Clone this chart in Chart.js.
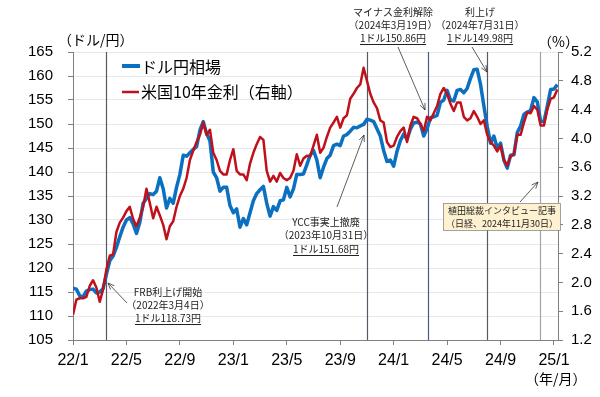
<!DOCTYPE html>
<html>
<head>
<meta charset="utf-8">
<script src="https://cdn.jsdelivr.net/npm/chart.js@4"></script>
<style>
html, body { margin: 0; padding: 0; background: #fff; }
#wrap { width: 600px; height: 397px; }
</style>
</head>
<body>
<div id="wrap"><canvas id="fxChart" width="600" height="397"></canvas></div>
<script>
// weekly-ish time grid: months since 2022/1, one point per quarter month (through early Jan 2025)
const months = Array.from({ length: 146 }, (_, i) => i * 0.25);

// ドル円相場 (yen per dollar)
const usdjpy = [
  115.8, 115.6, 114.2, 114.0, 115.2, 115.5, 115.6, 114.8, 115.0, 115.7, 118.7, 121.5,   // 2022/1-3
  122.5, 124.3, 126.5, 128.5, 130.0, 130.5, 129.2, 127.2, 129.5, 133.5, 134.5, 135.5,   // 2022/4-6
  135.3, 136.0, 138.8, 136.5, 132.5, 134.5, 133.5, 136.8, 139.5, 143.5, 143.3, 144.0,   // 2022/7-9
  144.7, 145.3, 148.7, 150.5, 148.0, 146.5, 140.0, 138.8, 136.0, 136.8, 136.8, 133.0,   // 2022/10-12
  131.5, 132.3, 128.5, 130.3, 129.0, 131.5, 134.0, 135.5, 136.3, 137.0, 133.5, 130.8,   // 2023/1-3
  132.8, 132.0, 134.0, 134.2, 136.8, 134.8, 136.5, 139.5, 139.5, 139.6, 141.5, 143.5,   // 2023/4-6
  144.5, 142.5, 138.8, 141.0, 142.8, 143.5, 145.5, 145.8, 145.5, 147.5, 147.8, 148.5,   // 2023/7-9
  149.3, 149.2, 149.6, 149.9, 151.0, 150.8, 150.5, 149.0, 147.5, 144.5, 142.2, 142.5,   // 2023/10-12
  141.2, 144.3, 146.5, 147.9, 146.8, 148.9, 150.2, 150.4, 150.0, 147.5, 149.0, 151.3,   // 2024/1-3
  151.5, 151.8, 154.5, 155.0, 157.0, 155.0, 154.8, 157.0, 157.2, 156.5, 157.4, 159.5,   // 2024/4-6
  161.3, 161.4, 158.3, 153.8, 149.5, 146.0, 147.5, 145.0, 146.0, 142.5, 140.8, 143.5,   // 2024/7-9
  143.6, 148.2, 149.6, 152.0, 152.5, 152.8, 155.5, 154.6, 150.5, 150.5, 153.7, 157.2,   // 2024/10-12
  157.3, 158.2                                                                           // 2025/1
];

// 米国10年金利 (%), right axis
const us10y = [
  1.55, 1.76, 1.78, 1.78, 1.80, 1.95, 2.03, 1.93, 1.73, 1.90, 2.18, 2.37,
  2.39, 2.70, 2.83, 2.90, 2.99, 3.05, 2.88, 2.78, 2.90, 3.05, 3.30, 3.10,
  2.89, 3.05, 2.93, 2.80, 2.60, 2.78, 2.85, 3.05, 3.20, 3.30, 3.45, 3.70,
  3.83, 3.95, 4.05, 4.22, 4.05, 4.12, 3.80, 3.70, 3.55, 3.50, 3.50, 3.70,
  3.85, 3.55, 3.50, 3.50, 3.42, 3.65, 3.80, 3.92, 4.02, 3.98, 3.55, 3.40,
  3.48, 3.40, 3.52, 3.45, 3.42, 3.45, 3.55, 3.78, 3.62, 3.72, 3.76, 3.75,
  3.90, 4.05, 3.80, 3.87, 4.02, 4.15, 4.22, 4.30, 4.15, 4.28, 4.32, 4.55,
  4.62, 4.70, 4.75, 4.98, 4.80, 4.62, 4.50, 4.42, 4.25, 4.22, 3.95, 3.88,
  3.90, 4.02, 4.10, 4.15, 3.95, 4.18, 4.30, 4.28, 4.20, 4.10, 4.30, 4.25,
  4.35, 4.45, 4.62, 4.70, 4.62, 4.48, 4.38, 4.50, 4.50, 4.30, 4.25, 4.28,
  4.38, 4.30, 4.20, 4.25, 4.05, 3.95, 3.90, 3.82, 3.90, 3.70, 3.62, 3.75,
  3.78, 4.05, 4.05, 4.22, 4.36, 4.35, 4.45, 4.40, 4.18, 4.18, 4.40, 4.55,
  4.57, 4.68
];

// tick values
const xTickMonths = [0, 4, 8, 12, 16, 20, 24, 28, 32, 36];
const leftTicks = [105, 110, 115, 120, 125, 130, 135, 140, 145, 150, 155, 160, 165];
const rightTicks = [1.2, 1.6, 2.0, 2.4, 2.8, 3.2, 3.6, 4.0, 4.4, 4.8, 5.2];

// event dates (months since 2022/1) for the vertical lines
const eventMonths = [2.5, 21.97, 26.6, 30.97, 34.97];
const eventColors = ['#555a66', '#555a66', '#4a5a8c', '#555a66', '#a0a4ad'];

const CJK = '"Noto Sans CJK JP", sans-serif';
const BLUE = '#0a70bf';
const RED = '#c0101a';

function monthLabel(v) {
  const y = 22 + Math.floor(v / 12);
  const m = (v % 12) + 1;
  return y + '/' + m;
}

function arrow(ctx, x1, y1, x2, y2) {
  const a = Math.atan2(y2 - y1, x2 - x1);
  const h = 7;
  ctx.beginPath();
  ctx.moveTo(x1, y1);
  ctx.lineTo(x2, y2);
  ctx.moveTo(x2 - h * Math.cos(a - 0.4), y2 - h * Math.sin(a - 0.4));
  ctx.lineTo(x2, y2);
  ctx.lineTo(x2 - h * Math.cos(a + 0.4), y2 - h * Math.sin(a + 0.4));
  ctx.stroke();
}

function note(ctx, lines, cx, y0, gap, underlineLast) {
  ctx.textAlign = 'center';
  ctx.textBaseline = 'middle';
  lines.forEach((t, i) => {
    const y = y0 + i * gap;
    ctx.fillText(t, cx, y);
    if (underlineLast && i === lines.length - 1) {
      const w = ctx.measureText(t).width;
      ctx.fillRect(cx - w / 2, y + 6, w, 1);
    }
  });
}

// event lines under the data
const eventLines = {
  id: 'eventLines',
  beforeDatasetsDraw(chart) {
    const ctx = chart.ctx;
    const xs = chart.scales.x;
    const area = chart.chartArea;
    ctx.save();
    ctx.lineWidth = 1.2;
    eventMonths.forEach((m, i) => {
      const x = Math.round(xs.getPixelForValue(m)) + 0.5;
      ctx.strokeStyle = eventColors[i];
      ctx.beginPath();
      ctx.moveTo(x, area.top);
      ctx.lineTo(x, area.bottom);
      ctx.stroke();
    });
    ctx.restore();
  }
};

// legend, unit labels and annotations
const decor = {
  id: 'decor',
  afterDraw(chart) {
    const ctx = chart.ctx;
    ctx.save();

    // legend
    ctx.lineWidth = 4;
    ctx.strokeStyle = BLUE;
    ctx.beginPath(); ctx.moveTo(122, 66); ctx.lineTo(140, 66); ctx.stroke();
    ctx.lineWidth = 2.5;
    ctx.strokeStyle = RED;
    ctx.beginPath(); ctx.moveTo(122, 92); ctx.lineTo(139, 92); ctx.stroke();
    ctx.fillStyle = '#000';
    ctx.font = '16px ' + CJK;
    ctx.textAlign = 'left';
    ctx.textBaseline = 'middle';
    ctx.fillText('ドル円相場', 141, 67);
    ctx.fillText('米国10年金利（右軸）', 141, 92);

    // unit labels
    ctx.font = '14px ' + CJK;
    ctx.fillText('（ドル/円）', 58, 40);
    ctx.fillText('（%）', 538, 42);
    ctx.fillText('（年/月）', 525, 379);

    // annotations
    ctx.font = '10px ' + CJK;
    ctx.fillStyle = '#222';
    ctx.strokeStyle = '#333';
    ctx.lineWidth = 0.8;

    note(ctx, ['FRB利上げ開始', '（2022年3月4日）', '1ドル118.73円'], 168, 292, 13, true);
    arrow(ctx, 127, 303, 108, 283);

    note(ctx, ['YCC事実上撤廃', '（2023年10月31日）', '1ドル151.68円'], 326, 222, 13.5, true);
    arrow(ctx, 337, 207, 364, 135);

    note(ctx, ['マイナス金利解除', '（2024年3月19日）', '1ドル150.86円'], 393, 12, 13, true);
    arrow(ctx, 398, 47, 425, 110);

    note(ctx, ['利上げ', '（2024年7月31日）', '1ドル149.98円'], 480, 12, 13, true);
    arrow(ctx, 472, 47, 487, 72);

    ctx.fillStyle = '#fdf1cf';
    ctx.strokeStyle = '#8c8c8c';
    ctx.fillRect(443, 203, 117, 27);
    ctx.strokeRect(443.5, 203.5, 117, 27);
    ctx.fillStyle = '#222';
    ctx.font = '9px ' + CJK;
    note(ctx, ['植田総裁インタビュー記事', '（日経、2024年11月30日）'], 502, 211, 12.5, false);
    ctx.strokeStyle = '#333';
    arrow(ctx, 520, 202, 538, 182);

    ctx.restore();
  }
};

const tickFont = { family: '"Liberation Sans", Arial, sans-serif', size: 15 };

const ctx = document.getElementById('fxChart').getContext('2d');
const fxChart = new Chart(ctx, {
  type: 'line',
  data: {
    datasets: [
      {
        label: 'ドル円相場',
        data: months.map((m, i) => ({ x: m, y: usdjpy[i] })),
        borderColor: BLUE,
        borderWidth: 3.5,
        yAxisID: 'y',
        order: 2
      },
      {
        label: '米国10年金利（右軸）',
        data: months.map((m, i) => ({ x: m, y: us10y[i] })),
        borderColor: RED,
        borderWidth: 2.5,
        yAxisID: 'y1',
        order: 1
      }
    ]
  },
  options: {
    responsive: false,
    animation: false,
    devicePixelRatio: 1,
    elements: { point: { radius: 0 }, line: { tension: 0, borderJoinStyle: 'round' } },
    layout: { padding: { top: 52, left: 0, right: 0, bottom: 0 } },
    plugins: { legend: { display: false }, tooltip: { enabled: false } },
    scales: {
      x: {
        type: 'linear',
        min: 0,
        max: 36.3,
        afterBuildTicks: s => { s.ticks = xTickMonths.map(v => ({ value: v })); },
        afterFit: s => { s.height = 57; },
        ticks: { callback: v => monthLabel(v), font: { ...tickFont, size: 16 }, color: '#000', padding: 6, maxRotation: 0, autoSkip: false },
        grid: { drawOnChartArea: false, tickLength: 5, tickColor: '#808080' },
        border: { color: '#808080' }
      },
      y: {
        position: 'left',
        min: 105,
        max: 165,
        afterBuildTicks: s => { s.ticks = leftTicks.map(v => ({ value: v })); },
        afterFit: s => { s.width = 73; },
        ticks: { font: tickFont, color: '#000', padding: 15 },
        grid: { color: '#e8e8e8', tickLength: 5, tickColor: '#808080' },
        border: { color: '#808080' }
      },
      y1: {
        position: 'right',
        min: 1.2,
        max: 5.2,
        afterBuildTicks: s => { s.ticks = rightTicks.map(v => ({ value: v })); },
        afterFit: s => { s.width = 42; },
        ticks: { callback: v => v.toFixed(1), font: tickFont, color: '#000', padding: 8 },
        grid: { drawOnChartArea: false, tickLength: 5, tickColor: '#808080' },
        border: { color: '#808080' }
      }
    }
  },
  plugins: [eventLines, decor]
});
</script>
</body>
</html>
